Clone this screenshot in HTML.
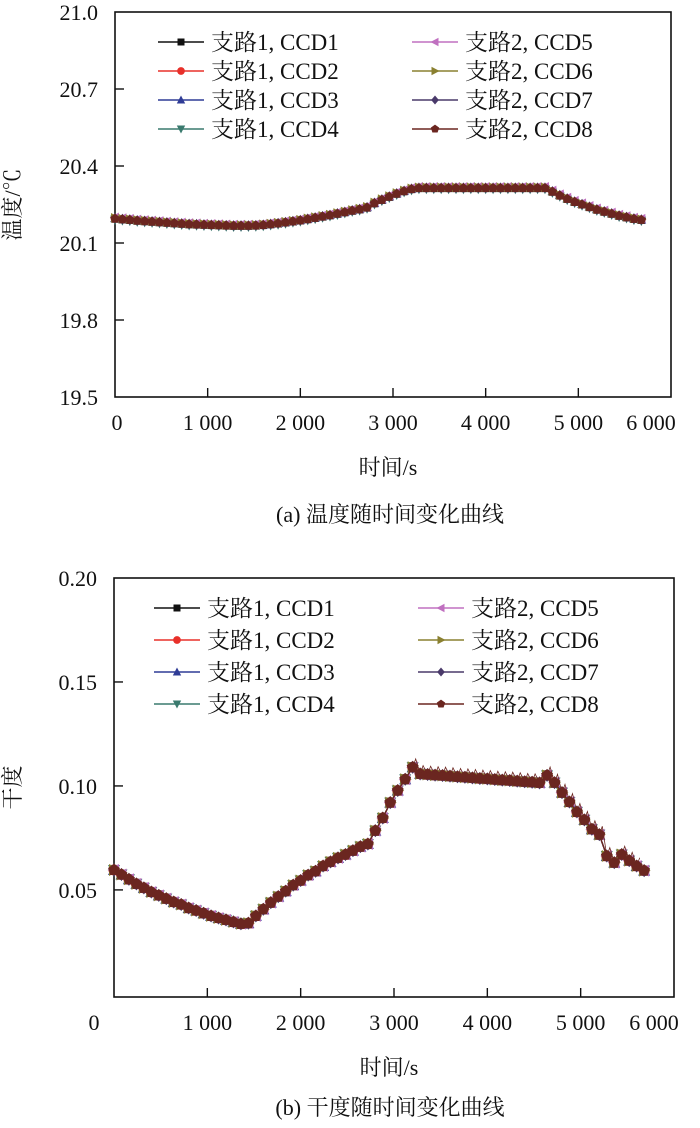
<!DOCTYPE html>
<html><head><meta charset="utf-8"><style>
html,body{margin:0;padding:0;background:#fff;}
svg{display:block;font-family:"Liberation Serif","Noto Serif CJK SC",serif;}
</style></head><body>
<svg id="c" width="700" height="1128" viewBox="0 0 700 1128"></svg>
<script>
const times=[0,80,160,240,320,400,480,560,640,720,800,880,960,1040,1120,1200,1280,1360,1440,1520,1600,1680,1760,1840,1920,2000,2080,2160,2240,2320,2400,2480,2560,2640,2720,2800,2880,2960,3040,3120,3200,3280,3360,3440,3520,3600,3680,3760,3840,3920,4000,4080,4160,4240,4320,4400,4480,4560,4640,4720,4800,4880,4960,5040,5120,5200,5280,5360,5440,5520,5600,5680];
const tempValues=[20.195,20.192,20.19,20.187,20.185,20.183,20.181,20.179,20.177,20.175,20.173,20.172,20.171,20.170,20.169,20.168,20.167,20.167,20.167,20.168,20.170,20.173,20.176,20.180,20.184,20.188,20.193,20.198,20.203,20.208,20.214,20.220,20.226,20.231,20.238,20.255,20.268,20.280,20.292,20.302,20.310,20.314,20.314,20.314,20.314,20.314,20.314,20.314,20.314,20.314,20.314,20.314,20.314,20.314,20.314,20.314,20.314,20.314,20.314,20.300,20.285,20.272,20.260,20.250,20.240,20.230,20.222,20.214,20.206,20.200,20.194,20.190];
const dryValues=[0.0596,0.0574,0.0551,0.0529,0.0510,0.0490,0.0474,0.0458,0.0442,0.0430,0.0413,0.0401,0.0388,0.0375,0.0365,0.0356,0.0346,0.0337,0.0340,0.0375,0.0407,0.0439,0.0468,0.0494,0.0523,0.0545,0.0571,0.0590,0.0615,0.0635,0.0654,0.0670,0.0689,0.0708,0.0721,0.0785,0.0846,0.0920,0.0978,0.1032,0.1090,0.1058,0.1055,0.1052,0.1050,0.1047,0.1044,0.1042,0.1039,0.1036,0.1034,0.1031,0.1028,0.1026,0.1023,0.1020,0.1018,0.1015,0.1051,0.1016,0.0968,0.0923,0.0875,0.0837,0.0792,0.0766,0.0663,0.0631,0.0670,0.0641,0.0615,0.0593];
const seriesNames=["支路1, CCD1","支路1, CCD2","支路1, CCD3","支路1, CCD4","支路2, CCD5","支路2, CCD6","支路2, CCD7","支路2, CCD8"];
const tempOffsets=[0,0.001,0.002,-0.004,0.005,0.003,0.001,0];
const dryOffsets=[0,0,0,0,0,0,0,0];
const xTicks=[0,1000,2000,3000,4000,5000,6000];
const xTickLabels=["0","1 000","2 000","3 000","4 000","5 000","6 000"];
const tempTicks=[19.5,19.8,20.1,20.4,20.7,21.0];
const tempTickLabels=["19.5","19.8","20.1","20.4","20.7","21.0"];
const dryTicks=[0.05,0.10,0.15,0.20];
const dryTickLabels=["0.05","0.10","0.15","0.20"];
const colors=["#111","#e8302a","#2f3c96","#3a7a6e","#c070c0","#8a8030","#4a3a6a","#6b2620"];
const shapes=["sq","ci","tu","td","tl","tr","di","pe"];

const NS="http://www.w3.org/2000/svg";
const svg=document.getElementById('c');
function mk(tag,attrs,parent,text){const e=document.createElementNS(NS,tag);for(const k in attrs)e.setAttribute(k,attrs[k]);if(text!=null)e.textContent=text;(parent||svg).appendChild(e);return e;}

function marker(g,shape,x,y,r,col){
  let e;
  if(shape==="sq")e=mk('rect',{x:x-r,y:y-r,width:2*r,height:2*r,fill:col},g);
  else if(shape==="ci")e=mk('circle',{cx:x,cy:y,r:r*1.1,fill:col},g);
  else if(shape==="tu")e=mk('polygon',{points:`${x},${y-r*1.3} ${x-r*1.2},${y+r} ${x+r*1.2},${y+r}`,fill:col},g);
  else if(shape==="td")e=mk('polygon',{points:`${x},${y+r*1.3} ${x-r*1.2},${y-r} ${x+r*1.2},${y-r}`,fill:col},g);
  else if(shape==="tl")e=mk('polygon',{points:`${x-r*1.3},${y} ${x+r},${y-r*1.2} ${x+r},${y+r*1.2}`,fill:col},g);
  else if(shape==="tr")e=mk('polygon',{points:`${x+r*1.3},${y} ${x-r},${y-r*1.2} ${x-r},${y+r*1.2}`,fill:col},g);
  else if(shape==="di")e=mk('polygon',{points:`${x},${y-r*1.3} ${x+r*1.1},${y} ${x},${y+r*1.3} ${x-r*1.1},${y}`,fill:col},g);
  else{const p=[];for(let k=0;k<5;k++){const a=-Math.PI/2+k*2*Math.PI/5;p.push((x+r*1.25*Math.cos(a)).toFixed(1)+","+(y+r*1.25*Math.sin(a)).toFixed(1));}e=mk('polygon',{points:p.join(' '),fill:col},g);}
  
  
}

function chart(o){
  const L=o.left,R=o.right,T=o.top,B=o.bottom;
  const xs=t=>L+(t-0)/(6000-0)*(R-L);
  const ys=v=>B-(v-o.ymin)/(o.ymax-o.ymin)*(B-T);
  const g=mk('g',{},svg);
  const frame=mk('rect',{x:L,y:T,width:R-L,height:B-T,fill:'none',stroke:'#111','stroke-width':1.6},g);
  
  xTicks.forEach((t,i)=>{
    if(i>0&&i<xTicks.length-1){const tk=mk('line',{x1:xs(t),x2:xs(t),y1:B,y2:B-9,stroke:'#111','stroke-width':1.4},g);}
    const lx=(i===0)?xs(t)+o.zeroShift:(i===xTicks.length-1?xs(t)-20:xs(t));
    const tl=mk('text',{x:lx,y:B+33,'font-size':22,'text-anchor':'middle',fill:'#111'},g,xTickLabels[i]);
    
  });
  o.yTicks.forEach((v,i)=>{
    if(v>o.ymin+1e-9&&v<o.ymax-1e-9){const tk=mk('line',{x1:L,x2:L+9,y1:ys(v),y2:ys(v),stroke:'#111','stroke-width':1.4},g);}
    const tl=mk('text',{x:L-17,y:ys(v)+8,'font-size':22,'text-anchor':'end',fill:'#111'},g,o.yLabels[i]);
    
  });
  const xt=mk('text',{x:(L+R)/2-5,y:B+78,'font-size':22,'text-anchor':'middle',fill:'#111'},g,'时间/s');
  
  const yt=mk('text',{x:0,y:0,'font-size':22,'text-anchor':'middle',fill:'#111',transform:`translate(${o.yTitleX},${(T+B)/2}) rotate(-90)`},g,o.yTitle);
  
  const cap=mk('text',{x:390,y:o.capY,'font-size':22,'text-anchor':'middle',fill:'#111'},g,o.caption);
  
  for(let s=0;s<8;s++){
    const sg=mk('g',{},g);
    const pts=o.values.map((v,i)=>xs(times[i]).toFixed(1)+","+ys(v+o.offsets[s]).toFixed(1));
    const pl=mk('polyline',{points:pts.join(' '),fill:'none',stroke:colors[s],'stroke-width':1.3},sg);
    
    o.values.forEach((v,i)=>marker(sg,shapes[s],xs(times[i]),ys(v+o.offsets[s]),o.mr,colors[s]));
  }
  if(o.spikes){
    const sp=[];
    for(let i=40;i<o.values.length-1;i++){
      sp.push(xs(times[i]).toFixed(1)+","+ys(o.values[i]).toFixed(1));
      sp.push((xs(times[i])+3).toFixed(1)+","+ys(o.values[i]+o.spikes).toFixed(1));
    }
    const z=mk('polyline',{points:sp.join(' '),fill:'none',stroke:'#6b2620','stroke-width':0.8},g);
    
  }
  const lg=mk('g',{},g);
  for(let s=0;s<8;s++){
    const col=s<4?0:1,row=s%4;
    const x0=o.leg.x[col],y0=o.leg.y0+row*o.leg.dy;
    const eg=mk('g',{},lg);
    mk('line',{x1:x0,x2:x0+46,y1:y0,y2:y0,stroke:colors[s],'stroke-width':1.6},eg);
    marker(eg,shapes[s],x0+23,y0,3.5,colors[s]);
    mk('text',{x:x0+53,y:y0+8,'font-size':23,fill:'#111'},eg,seriesNames[s]);
  }
}

chart({name:'temperature-chart',left:115,right:671,top:12,bottom:397,ymin:19.5,ymax:21.0,values:tempValues,offsets:tempOffsets,yTicks:tempTicks,yLabels:tempTickLabels,yTitle:'温度/℃',yTitleX:20,caption:'(a) 温度随时间变化曲线',capY:522,mr:4,zeroShift:2,leg:{x:[158,412],y0:42,dy:29}});
chart({name:'dryness-chart',left:114,right:674,top:578,bottom:997,ymin:-0.0015,ymax:0.20,values:dryValues,offsets:dryOffsets,yTicks:dryTicks,yLabels:dryTickLabels,yTitle:'干度',yTitleX:20,caption:'(b) 干度随时间变化曲线',capY:1115,mr:5,zeroShift:-20,spikes:0.004,leg:{x:[154,418],y0:608,dy:32}});
</script>
</body></html>
